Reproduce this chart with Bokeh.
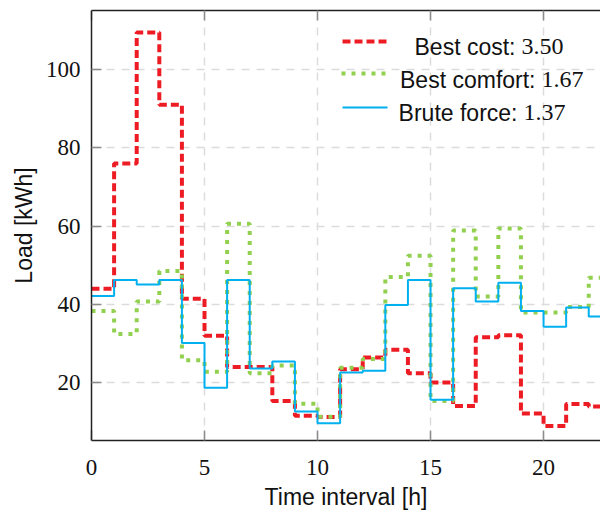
from bokeh.plotting import figure
from bokeh.models import (LinearAxis, FixedTicker, Label, Range1d, Arrow)
from bokeh.embed import file_html
from bokeh.resources import INLINE

# ---- data (interval start hour, load in kWh per interval) ----
hours = list(range(23))
best_cost = [44, 76, 109.5, 91, 41.4, 32, 24, 24, 15.3, 11.5, 11.2, 23.4, 26.4,
             28.4, 22.4, 20.0, 14.0, 31.6, 32.1, 12.1, 8.9, 14.5, 13.9]
best_comfort = [38.3, 32.4, 40.7, 48.5, 25.7, 22.8, 60.6, 22.4, 24.4, 14.6, 11.3,
                23.8, 26.0, 47.0, 52.4, 15.3, 58.9, 42.0, 59.4, 37.9, 37.9, 39.3, 46.8]
brute_force = [42.1, 46.2, 45.1, 46.2, 30.1, 18.7, 46.2, 23.6, 25.4, 12.6, 9.6,
               22.6, 23.0, 39.8, 46.2, 15.6, 44.1, 40.7, 45.5, 38.3, 34.3, 39.2, 36.9]
series_names = ["Best cost:", "Best comfort:", "Brute force:"]
series_scores = ["3.50", "1.67", "1.37"]
x_ticks = [0, 5, 10, 15, 20]
y_ticks = [20, 40, 60, 80, 100]

SANS = "Liberation Sans"
SERIF = "Liberation Serif"
COLORS = ["#ED1C24", "#92D050", "#00B0F0"]
WIDTHS = [4, 4, 2]
DASHES = ["8 4", "4 6", "solid"]

p = figure(width=600, height=514, output_backend="svg", toolbar_location=None,
           x_range=Range1d(0, 22.52), y_range=Range1d(5.2, 115.1),
           min_border_left=91, min_border_right=0, min_border_top=10,
           min_border_bottom=74)
p.outline_line_color = None
p.background_fill_color = "white"
p.border_fill_color = "white"

def edges(vals):
    return hours + [hours[-1] + 1], vals + [vals[-1]]

for vals, c, w, d in zip([best_cost, best_comfort, brute_force], COLORS, WIDTHS, DASHES):
    xs, ys = edges(vals)
    p.step(xs, ys, mode="after", line_color=c, line_width=w, line_dash=d)

# axes
for ax in (p.xaxis[0], p.yaxis[0]):
    ax.major_tick_in = 10
    ax.major_tick_out = 0
    ax.minor_tick_line_color = None
    ax.major_tick_line_color = "#8c8c8c"
    ax.major_tick_line_width = 1.5
    ax.axis_line_color = "#222222"
    ax.axis_line_width = 1.5
    ax.major_label_text_font = SERIF
    ax.major_label_text_font_size = "23px"
    ax.major_label_text_color = "#111111"
    ax.axis_label_text_font = SANS
    ax.axis_label_text_font_style = "normal"
    ax.axis_label_text_font_size = "23px"
    ax.axis_label_text_color = "#111111"

p.xaxis.ticker = FixedTicker(ticks=x_ticks)
p.yaxis.ticker = FixedTicker(ticks=y_ticks)
p.xaxis.major_label_standoff = 19
p.yaxis.major_label_standoff = 11
p.yaxis.axis_label = "Load [kWh]"
p.yaxis.axis_label_standoff = 6
p.xaxis.axis_label = "Time interval [h]"
p.xaxis.axis_label_standoff = 6

top = LinearAxis(ticker=FixedTicker(ticks=x_ticks), major_tick_in=10, major_tick_out=0,
                 major_label_overrides={t: "" for t in x_ticks}, major_label_standoff=0,
                 minor_tick_line_color=None, major_tick_line_color="#8c8c8c",
                 major_tick_line_width=1.5, axis_line_color="#222222",
                 axis_line_width=1.5)
p.add_layout(top, "above")

p.grid.grid_line_color = "#dcdcdc"
p.grid.grid_line_width = 1.5
p.grid.grid_line_dash = "8 7"
p.xgrid.ticker = FixedTicker(ticks=x_ticks)
p.ygrid.ticker = FixedTicker(ticks=y_ticks)

# legend (drawn as annotations in screen units)
sample_x = [251, 250, 251]
sample_y = [399, 367, 333]
name_right = [424, 444, 426]
baselines = [394, 361, 328]
for i in range(3):
    p.add_layout(Arrow(start=None, end=None, x_start=sample_x[i], x_end=sample_x[i] + 45,
                       y_start=sample_y[i], y_end=sample_y[i],
                       start_units="screen", end_units="screen",
                       line_color=COLORS[i], line_width=WIDTHS[i], line_dash=DASHES[i]))
    p.add_layout(Label(x=name_right[i], y=baselines[i], x_units="screen", y_units="screen",
                       text=series_names[i], text_font=SANS, text_font_size="23px",
                       text_align="right", text_baseline="alphabetic", text_color="#111111"))
    p.add_layout(Label(x=name_right[i] + 6, y=baselines[i], x_units="screen", y_units="screen",
                       text=series_scores[i], text_font=SERIF, text_font_size="24px",
                       text_align="left", text_baseline="alphabetic", text_color="#111111"))

open("out.html", "w").write(file_html(p, INLINE))
